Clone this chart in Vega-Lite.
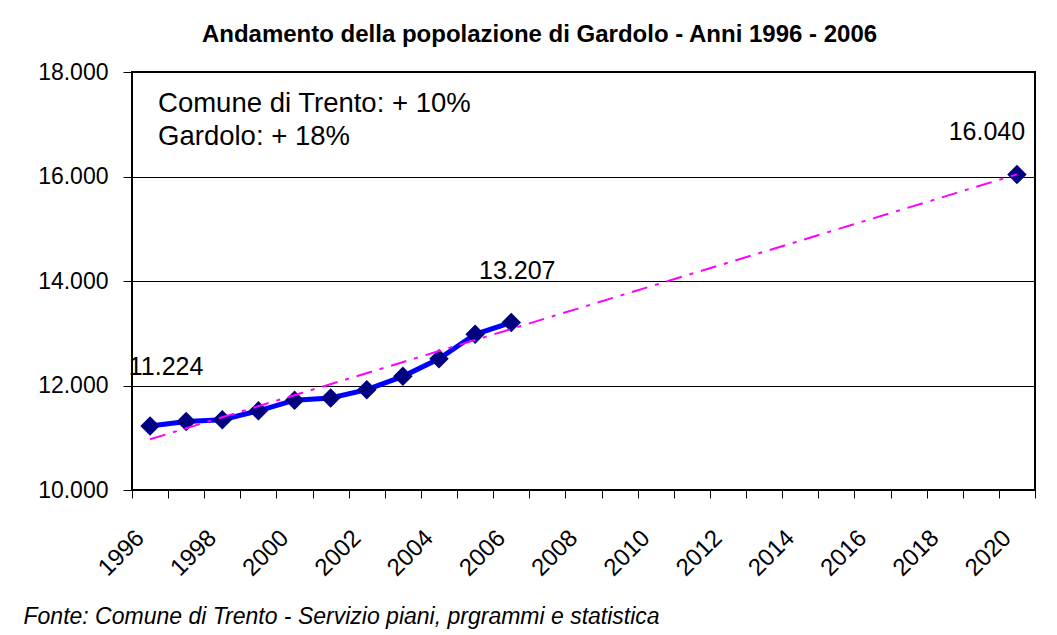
{
  "$schema": "https://vega.github.io/schema/vega-lite/v6.json",
  "autosize": {"type": "none"},
  "width": 903,
  "height": 418,
  "padding": {"left": 132, "top": 72, "right": 22, "bottom": 145},
  "background": "white",
  "config": {
    "locale": {"number": {"decimal": ",", "thousands": ".", "grouping": [3], "currency": ["€", ""]}},
    "view": {"stroke": "black", "strokeWidth": 2},
    "font": "Liberation Sans"
  },
  "title": {
    "text": "Andamento della popolazione di Gardolo - Anni 1996 - 2006",
    "font": "Liberation Sans",
    "fontWeight": "bold",
    "fontSize": 24,
    "frame": "group",
    "anchor": "middle",
    "dx": -44,
    "dy": 35,
    "baseline": "alphabetic",
    "offset": 30,
    "color": "black"
  },
  "datasets": {
    "pop": [
      {"year": "1996", "pop": 11224, "series": "storico"},
      {"year": "1997", "pop": 11310, "series": "storico"},
      {"year": "1998", "pop": 11345, "series": "storico"},
      {"year": "1999", "pop": 11515, "series": "storico"},
      {"year": "2000", "pop": 11720, "series": "storico"},
      {"year": "2001", "pop": 11760, "series": "storico"},
      {"year": "2002", "pop": 11920, "series": "storico"},
      {"year": "2003", "pop": 12175, "series": "storico"},
      {"year": "2004", "pop": 12510, "series": "storico"},
      {"year": "2005", "pop": 12980, "series": "storico"},
      {"year": "2006", "pop": 13207, "series": "storico"},
      {"year": "2020", "pop": 16040, "series": "previsione"}
    ],
    "trend": [
      {"year": "1996", "pop": 10970},
      {"year": "2020", "pop": 16040}
    ]
  },
  "encoding": {
    "x": {
      "field": "year",
      "type": "ordinal",
      "scale": {
        "type": "band",
        "domain": ["1996","1997","1998","1999","2000","2001","2002","2003","2004","2005","2006","2007","2008","2009","2010","2011","2012","2013","2014","2015","2016","2017","2018","2019","2020"],
        "paddingInner": 0,
        "paddingOuter": 0
      },
      "axis": {
        "title": "Fonte: Comune di Trento - Servizio piani, prgrammi e statistica",
        "titleFont": "Liberation Sans",
        "titleFontStyle": "italic",
        "titleFontWeight": "normal",
        "titleFontSize": 23,
        "titleColor": "black",
        "titleAnchor": "start",
        "titleAlign": "left",
        "titleBaseline": "alphabetic",
        "titleX": -109,
        "titleY": 133,
        "tickBand": "extent",
        "labelAngle": -45,
        "labelAlign": "right",
        "labelBaseline": "middle",
        "labelExpr": "toNumber(datum.value) % 2 == 0 ? datum.value : ''",
        "labelFont": "Liberation Sans",
        "labelFontSize": 24,
        "labelColor": "black",
        "labelPadding": 36,
        "labelOffset": -10,
        "grid": false,
        "domain": false,
        "tickColor": "black",
        "tickWidth": 1,
        "tickSize": 8
      }
    },
    "y": {
      "field": "pop",
      "type": "quantitative",
      "scale": {"domain": [10000, 18000], "nice": false, "zero": false},
      "axis": {
        "title": null,
        "values": [10000, 12000, 14000, 16000, 18000],
        "format": ",d",
        "grid": true,
        "gridColor": "black",
        "gridWidth": 1,
        "gridOpacity": 1,
        "domain": false,
        "tickColor": "black",
        "tickSize": 9,
        "labelFont": "Liberation Sans",
        "labelFontSize": 23,
        "labelColor": "black",
        "labelPadding": 15
      }
    }
  },
  "layer": [
    {
      "data": {"name": "pop"},
      "transform": [{"filter": "datum.series == 'storico'"}],
      "mark": {"type": "line", "color": "#0000FF", "strokeWidth": 5}
    },
    {
      "data": {"name": "pop"},
      "mark": {"type": "point", "shape": "diamond", "filled": true, "color": "#000080", "size": 380, "opacity": 1}
    },
    {
      "data": {"name": "trend"},
      "mark": {"type": "line", "color": "#FF00FF", "strokeWidth": 2, "strokeDash": [16, 8, 4, 8]}
    },
    {
      "data": {"name": "pop"},
      "transform": [{"filter": "datum.year == '1996'"}],
      "mark": {"type": "text", "font": "Liberation Sans", "fontSize": 25, "color": "black", "align": "center", "baseline": "alphabetic", "dx": 16, "dy": -51},
      "encoding": {"text": {"field": "pop", "type": "quantitative", "format": ",d"}}
    },
    {
      "data": {"name": "pop"},
      "transform": [{"filter": "datum.year == '2006'"}],
      "mark": {"type": "text", "font": "Liberation Sans", "fontSize": 25, "color": "black", "align": "center", "baseline": "alphabetic", "dx": 6, "dy": -43},
      "encoding": {"text": {"field": "pop", "type": "quantitative", "format": ",d"}}
    },
    {
      "data": {"name": "pop"},
      "transform": [{"filter": "datum.year == '2020'"}],
      "mark": {"type": "text", "font": "Liberation Sans", "fontSize": 25, "color": "black", "align": "center", "baseline": "alphabetic", "dx": -30, "dy": -34},
      "encoding": {"text": {"field": "pop", "type": "quantitative", "format": ",d"}}
    },
    {
      "data": {"name": "pop"},
      "transform": [{"filter": "datum.year == '1996'"}],
      "mark": {"type": "text", "font": "Liberation Sans", "fontSize": 27.5, "color": "black", "align": "left", "baseline": "alphabetic", "dx": 8, "dy": -314},
      "encoding": {"text": {"value": "Comune di Trento: + 10%"}}
    },
    {
      "data": {"name": "pop"},
      "transform": [{"filter": "datum.year == '1996'"}],
      "mark": {"type": "text", "font": "Liberation Sans", "fontSize": 27.5, "color": "black", "align": "left", "baseline": "alphabetic", "dx": 8, "dy": -281},
      "encoding": {"text": {"value": "Gardolo: + 18%"}}
    }
  ]
}
